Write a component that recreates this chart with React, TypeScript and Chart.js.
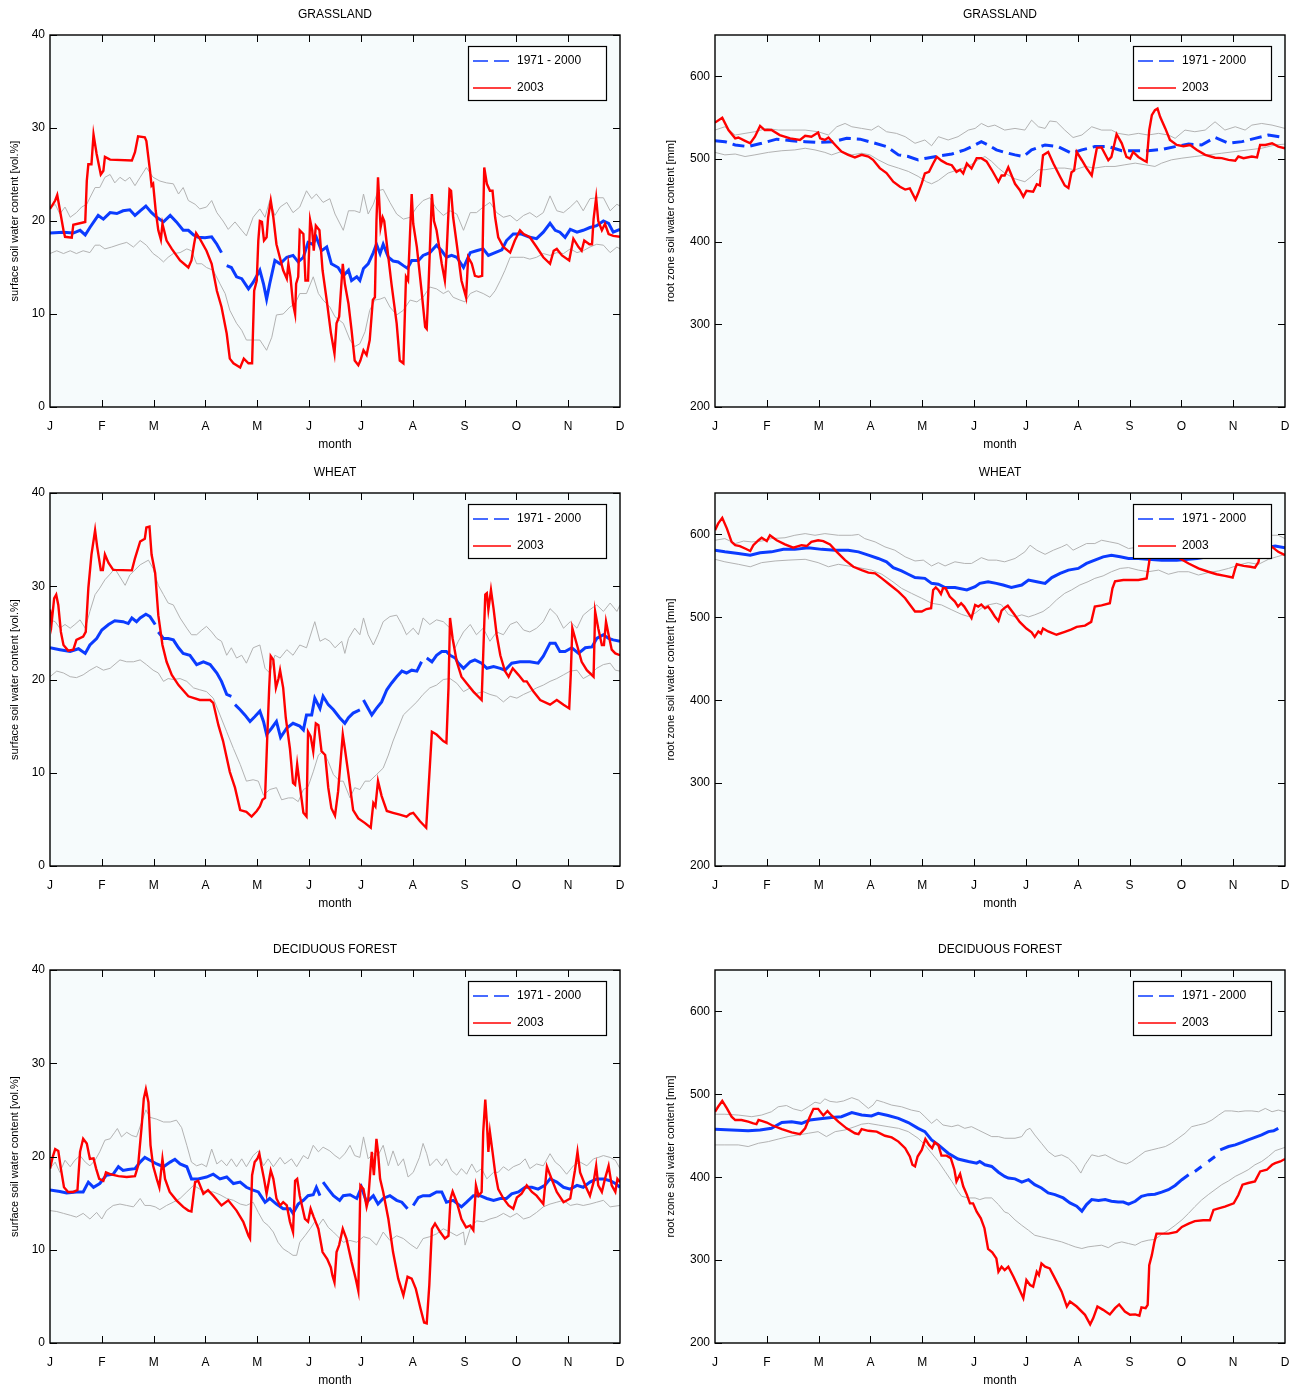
import React, { useEffect, useRef } from 'react';
import { Chart, registerables } from 'chart.js';

Chart.register(...registerables);
Chart.defaults.font.family = '"Liberation Sans", Arial, Helvetica, sans-serif';
Chart.defaults.color = '#000';

type Pt = [number, number | null];

const MONTH_LABELS = ['J', 'F', 'M', 'A', 'M', 'J', 'J', 'A', 'S', 'O', 'N', 'D'];
const LEGEND_MEAN = '1971 - 2000';
const LEGEND_YEAR = '2003';

// ---------------- GRASSLAND surface ----------------
const grassSurf2003: Pt[] = [[0,21.3],[0.1,22.2],[0.14,22.8],[0.26,19],[0.29,18.3],[0.42,18.2],[0.45,19.6],[0.68,19.9],[0.71,24.3],[0.74,26.1],[0.8,26.1],[0.84,29.3],[0.9,27.2],[0.98,25],[1.03,25.4],[1.06,26.9],[1.16,26.6],[1.58,26.5],[1.64,27.4],[1.7,29.1],[1.83,29],[1.86,28.6],[1.93,25.4],[1.96,23.8],[1.99,24],[2.04,21.1],[2.09,19],[2.14,18],[2.17,19.7],[2.25,17.9],[2.35,17],[2.51,15.75],[2.67,15],[2.73,15.75],[2.78,17.5],[2.82,18.7],[2.89,18.1],[3.02,16.8],[3.12,15.4],[3.22,12.5],[3.31,10.75],[3.41,7.9],[3.47,5.2],[3.54,4.7],[3.67,4.25],[3.74,5.2],[3.83,4.7],[3.9,4.7],[3.94,12.5],[3.99,13.6],[4.02,17.9],[4.05,20],[4.09,19.9],[4.13,17.9],[4.18,18.25],[4.21,20.4],[4.26,22.2],[4.31,20.4],[4.37,17.5],[4.5,14.7],[4.57,13.8],[4.6,15.4],[4.64,14],[4.69,11.1],[4.73,10],[4.75,13.25],[4.79,14],[4.82,19],[4.89,18.6],[4.93,13.6],[4.98,13.6],[5.02,20.1],[5.06,19],[5.09,16.8],[5.13,19.5],[5.2,19],[5.26,14.7],[5.34,11.5],[5.42,8],[5.49,5.75],[5.53,9],[5.58,9.7],[5.65,15.4],[5.69,13.25],[5.76,11.1],[5.82,8.25],[5.88,5],[5.95,4.5],[5.99,5],[6.05,6.1],[6.11,5.6],[6.17,7.2],[6.23,11.5],[6.27,11.8],[6.3,20],[6.33,24.7],[6.38,19.3],[6.42,20.4],[6.45,20],[6.5,17.5],[6.59,13.25],[6.69,9],[6.75,5],[6.82,4.7],[6.87,14],[6.91,13.6],[6.98,22.9],[7.01,19.7],[7.08,17.2],[7.17,12.5],[7.24,8.6],[7.27,8.4],[7.3,12.2],[7.37,22.9],[7.41,20],[7.46,19],[7.56,15.4],[7.62,13.6],[7.65,16.1],[7.71,23.4],[7.74,23.25],[7.78,20.4],[7.85,17.5],[7.94,13.6],[8.03,11.8],[8.07,16.1],[8.14,15.4],[8.2,14.1],[8.27,14],[8.34,14.1],[8.36,20.4],[8.38,25.75],[8.43,24],[8.49,23.25],[8.54,23.25],[8.59,20.4],[8.65,18.25],[8.75,17.2],[8.88,16.6],[8.97,17.9],[9.07,19],[9.14,18.6],[9.26,18.25],[9.39,17.2],[9.52,16.1],[9.65,15.4],[9.72,16.8],[9.78,17],[9.88,16.3],[10.02,15.75],[10.1,18.1],[10.2,17.2],[10.26,16.8],[10.31,17.9],[10.41,17.5],[10.46,17.5],[10.49,20.2],[10.54,22.5],[10.58,20],[10.65,19],[10.71,19.7],[10.78,18.6],[10.87,18.4],[11,18.3]];
const grassSurfMean: Pt[] = [[0,18.7],[0.26,18.8],[0.45,18.7],[0.58,19],[0.68,18.5],[0.77,19.3],[0.93,20.6],[1.03,20.2],[1.16,20.9],[1.29,20.8],[1.41,21.1],[1.54,21.2],[1.64,20.6],[1.74,21.1],[1.85,21.6],[1.96,20.9],[2.06,20.4],[2.19,19.9],[2.32,20.6],[2.44,19.9],[2.57,19],[2.67,19],[2.77,18.5],[2.86,18.25],[2.99,18.2],[3.12,18.3],[3.22,17.5],[3.31,16.6],[3.35,null],[3.41,15.2],[3.5,15],[3.6,14],[3.7,13.8],[3.83,12.7],[3.92,13.4],[4.05,14.7],[4.12,13.25],[4.18,11.6],[4.24,13.25],[4.34,15.75],[4.44,15.4],[4.57,16.1],[4.69,16.3],[4.79,15.6],[4.89,16.1],[4.98,17.7],[5.07,17.5],[5.14,18.25],[5.24,16.8],[5.34,17.2],[5.43,15.4],[5.56,15],[5.66,14.1],[5.76,14.7],[5.82,13.6],[5.92,14],[5.98,13.6],[6.05,14.9],[6.14,15.4],[6.24,16.6],[6.3,17.5],[6.37,16.5],[6.43,17.5],[6.53,16.1],[6.62,15.7],[6.72,15.6],[6.82,15.2],[6.9,14.9],[6.98,15.75],[7.11,15.75],[7.2,16.3],[7.33,16.6],[7.46,17.4],[7.56,16.8],[7.65,16.1],[7.75,16.3],[7.85,16.1],[7.98,15],[8.11,16.6],[8.23,16.8],[8.36,17],[8.46,16.3],[8.59,16.6],[8.72,16.9],[8.81,17.9],[8.94,18.6],[9.1,18.6],[9.26,18.25],[9.39,18.1],[9.52,18.8],[9.65,19.75],[9.75,19],[9.84,18.8],[9.94,18.25],[10.04,19.1],[10.17,18.8],[10.29,19],[10.42,19.3],[10.55,19.5],[10.68,20],[10.78,19.75],[10.87,18.8],[11,19.1]];
const grassSurfHigh: Pt[] = [[0,21.3],[0.1,21.8],[0.19,20.75],[0.29,21.5],[0.39,20.4],[0.51,20.9],[0.61,21.5],[0.71,21.8],[0.77,22.5],[0.87,23.6],[0.96,23.6],[1.06,24.7],[1.16,25],[1.25,24.1],[1.35,24.7],[1.45,24.3],[1.54,24.7],[1.64,23.8],[1.74,24.7],[1.86,25.75],[1.99,24.7],[2.12,24.3],[2.25,24.1],[2.38,24],[2.48,22.9],[2.57,23.6],[2.67,22.2],[2.8,21.8],[2.89,21.3],[3.02,21.5],[3.12,22.2],[3.22,20.9],[3.34,20],[3.44,19.1],[3.57,19.9],[3.7,19],[3.79,18.4],[3.92,20.4],[4.05,21.3],[4.15,20.4],[4.24,22.2],[4.34,20.6],[4.44,21.5],[4.57,22],[4.69,20.9],[4.82,21.5],[4.95,23.25],[5.05,22.4],[5.14,22.9],[5.27,22],[5.4,22.4],[5.5,20.75],[5.66,19],[5.76,21.1],[5.88,21.1],[5.98,20.9],[6.05,22.9],[6.14,20.75],[6.24,21.8],[6.33,23.25],[6.43,23.4],[6.56,22],[6.69,20.75],[6.82,20.2],[6.95,20.4],[7.08,21.5],[7.2,22.2],[7.33,22.5],[7.46,21.3],[7.59,20.6],[7.72,21.1],[7.85,20.75],[7.98,19],[8.11,20.9],[8.23,20.9],[8.36,21.5],[8.49,22],[8.62,20.9],[8.75,20.4],[8.88,20.6],[9.01,20],[9.14,20.6],[9.26,20.9],[9.39,20.4],[9.52,20.9],[9.65,22.7],[9.78,21.1],[9.91,20.9],[10.04,21.5],[10.17,22.2],[10.29,21.1],[10.42,22.4],[10.55,22.5],[10.68,22.5],[10.81,21.1],[10.94,21.8],[11,21.6]];
const grassSurfLow: Pt[] = [[0,16.5],[0.13,16.8],[0.26,16.5],[0.39,16.8],[0.51,16.5],[0.64,16.8],[0.77,16.6],[0.87,17.4],[0.96,17.4],[1.06,17],[1.19,17.2],[1.35,17.5],[1.48,17.7],[1.61,17.2],[1.74,17.9],[1.86,17.4],[1.99,16.5],[2.09,16.1],[2.19,15.6],[2.28,16.1],[2.38,16.5],[2.51,16.6],[2.64,17],[2.73,16.8],[2.83,15.4],[2.93,15.4],[3.02,15],[3.15,14.7],[3.28,13.25],[3.38,12.2],[3.47,10.4],[3.6,9],[3.7,8.25],[3.79,7.2],[3.92,7.2],[4.05,7.2],[4.18,6.1],[4.28,7.5],[4.37,9.9],[4.5,10],[4.63,10.75],[4.73,11.1],[4.82,12.2],[4.95,12.2],[5.08,14],[5.18,12.2],[5.27,11.5],[5.4,10.75],[5.5,9.7],[5.66,9],[5.79,7.2],[5.88,6.5],[5.98,6.8],[6.08,8.1],[6.17,10.4],[6.27,11.5],[6.37,11.6],[6.46,11.8],[6.56,10.75],[6.69,9.9],[6.82,10.4],[6.95,11.5],[7.08,11.3],[7.2,11.8],[7.33,12.9],[7.46,12.7],[7.59,12.2],[7.69,12.5],[7.78,11.8],[7.91,11.5],[8.01,11.3],[8.11,12.2],[8.23,12.5],[8.36,12.2],[8.49,11.8],[8.59,12.5],[8.69,13.6],[8.78,14.7],[8.88,16.1],[9.01,16.1],[9.14,16.1],[9.26,15.9],[9.39,16.1],[9.52,16.5],[9.65,16.3],[9.78,16.6],[9.91,16.5],[10.04,17],[10.17,16.6],[10.29,16.8],[10.42,17.2],[10.55,17.5],[10.68,17.4],[10.81,16.6],[10.94,17.2],[11,17]];

// ---------------- GRASSLAND root zone ----------------
const grassRoot2003: Pt[] = [[0,544],[0.14,550],[0.26,535],[0.39,525],[0.45,526],[0.58,522],[0.68,519],[0.77,527],[0.87,540],[0.96,535],[1.09,535],[1.25,529],[1.45,525],[1.64,523],[1.74,528],[1.86,527],[1.99,532],[2.03,525],[2.12,523],[2.19,526],[2.32,517],[2.44,509],[2.57,505],[2.7,502],[2.83,505],[2.96,503],[3.05,499],[3.18,489],[3.31,483],[3.44,472.5],[3.57,466.5],[3.67,463],[3.76,464.5],[3.87,451],[3.92,458.5],[3.99,470.5],[4.05,482.5],[4.13,484.5],[4.21,494.5],[4.28,502.5],[4.37,498],[4.47,494.5],[4.57,492.5],[4.66,484.5],[4.73,487],[4.79,482.5],[4.86,494.5],[4.95,488.5],[5.05,501],[5.14,501],[5.24,497],[5.34,487],[5.47,472.5],[5.53,480],[5.59,480],[5.66,490],[5.79,470],[5.88,462.5],[5.95,454.5],[6.01,461.5],[6.14,460.5],[6.21,469.5],[6.27,468],[6.33,504.5],[6.43,508.5],[6.53,494.5],[6.66,478.5],[6.75,468],[6.82,465],[6.88,484],[6.93,486],[6.98,508.5],[7.08,498.5],[7.17,489],[7.27,480],[7.37,513.5],[7.46,514],[7.59,498.5],[7.65,502.5],[7.75,530],[7.85,519],[7.94,502.5],[8.01,500.5],[8.07,508.5],[8.17,502.5],[8.27,498.5],[8.33,496.5],[8.38,535],[8.43,553],[8.49,559],[8.54,561],[8.59,551],[8.69,537],[8.78,523],[8.91,517],[9.04,515.5],[9.17,517],[9.3,511],[9.46,505],[9.65,501.5],[9.78,501],[9.91,499],[10.04,498],[10.1,503],[10.2,501],[10.36,503],[10.46,502],[10.52,517],[10.62,517],[10.75,519],[10.87,515],[11,513]];
const grassRootMean: Pt[] = [[0,522],[0.19,521],[0.39,517],[0.64,515],[0.9,519],[1.19,524],[1.48,522],[1.74,521],[1.99,520],[2.28,521],[2.54,525],[2.8,524],[3.09,519],[3.31,515],[3.54,505],[3.73,503],[3.92,499],[4.08,501],[4.31,503.5],[4.57,506],[4.82,511],[5.02,517],[5.14,521],[5.27,517],[5.43,511],[5.59,508],[5.79,505],[5.95,503],[6.11,511],[6.37,517],[6.62,515],[6.88,507],[7.08,511],[7.33,515],[7.59,515],[7.85,510],[8.11,510],[8.36,510],[8.62,511.5],[8.88,515],[9.14,518],[9.39,517],[9.65,526],[9.91,519],[10.17,521],[10.42,525],[10.68,529],[11,526]];
const grassRootHigh: Pt[] = [[0,535],[0.19,539],[0.39,529],[0.58,531],[0.77,533],[1,537],[1.22,535],[1.48,535],[1.74,535],[1.99,533],[2.19,529],[2.35,539],[2.51,543],[2.64,539],[2.83,537],[3.02,535],[3.15,540],[3.31,533],[3.5,531],[3.67,527],[3.86,519],[4.05,523],[4.18,516],[4.31,527],[4.5,523],[4.69,527],[4.89,535],[5.02,537],[5.14,543],[5.27,539],[5.4,541],[5.59,535],[5.79,537],[5.98,535],[6.11,547],[6.24,539],[6.37,537],[6.46,546],[6.59,545],[6.75,535],[6.91,526],[7.08,529],[7.27,539],[7.46,535],[7.65,535],[7.78,531],[7.98,529],[8.17,531],[8.36,529],[8.56,531],[8.75,529],[8.88,525],[9.07,535],[9.26,533],[9.46,535],[9.65,545],[9.84,535],[10.04,539],[10.23,535],[10.36,541],[10.55,543],[10.75,541],[11,537]];
const grassRootLow: Pt[] = [[0,508],[0.19,505],[0.39,506],[0.58,503],[0.77,505],[1.03,508],[1.29,510],[1.54,511],[1.74,513],[1.93,511],[2.12,508],[2.25,505],[2.44,509],[2.64,505],[2.83,507],[2.99,505],[3.15,499],[3.34,493],[3.54,489],[3.73,485],[3.92,479],[4.08,472.5],[4.18,470],[4.31,474],[4.5,483],[4.69,487],[4.89,491],[5.08,499],[5.21,503],[5.34,497],[5.47,489],[5.59,483],[5.79,476],[5.98,472.5],[6.11,479],[6.24,487],[6.37,487],[6.56,489],[6.75,489],[6.95,487],[7.14,491],[7.33,489],[7.53,491],[7.72,491],[7.91,493],[8.11,495],[8.3,493],[8.49,491],[8.62,495],[8.81,499],[9.01,501],[9.26,503],[9.52,505],[9.78,507],[10.04,509],[10.29,511],[10.55,513],[10.81,517],[11,518]];

// ---------------- WHEAT surface ----------------
const wheatSurf2003: Pt[] = [[0,27.5],[0.03,26],[0.08,28.7],[0.12,29.1],[0.16,28],[0.21,25.1],[0.26,23.7],[0.35,23.1],[0.45,23.2],[0.51,24.25],[0.64,24.6],[0.69,25.1],[0.74,29.8],[0.8,33.4],[0.87,36],[0.91,34.25],[0.98,31.75],[1.02,31.75],[1.06,33.4],[1.13,32.5],[1.22,31.75],[1.58,31.7],[1.64,33],[1.74,34.8],[1.83,35.1],[1.86,36.3],[1.92,36.4],[1.96,33.4],[2.03,31.4],[2.09,26.9],[2.17,23.7],[2.25,21.9],[2.35,20.5],[2.48,19.4],[2.67,18.2],[2.89,17.8],[3.09,17.8],[3.15,17.5],[3.25,15.1],[3.34,13.4],[3.47,10.1],[3.57,8.4],[3.67,6],[3.79,5.8],[3.89,5.3],[3.99,5.9],[4.05,6.4],[4.1,7.1],[4.15,7.3],[4.19,13.4],[4.23,19.1],[4.26,22.5],[4.31,22.1],[4.36,19.1],[4.41,20.1],[4.44,21],[4.5,19.1],[4.55,15.9],[4.63,12.6],[4.69,8.9],[4.73,8.7],[4.77,10.9],[4.81,9.1],[4.89,5.7],[4.95,5.3],[4.98,14.4],[5.03,13.9],[5.08,12.3],[5.13,15.3],[5.18,15.1],[5.24,12.3],[5.31,11.9],[5.37,8.4],[5.43,6.2],[5.5,5.4],[5.56,8],[5.65,14.1],[5.69,12.6],[5.76,9.8],[5.85,6],[5.95,5.1],[6.08,4.6],[6.19,4.1],[6.24,6.75],[6.28,6.4],[6.33,9.1],[6.4,7.5],[6.5,5.9],[6.62,5.7],[6.75,5.5],[6.88,5.3],[6.95,5.6],[7.01,5.7],[7.14,4.8],[7.26,4.1],[7.37,14.4],[7.46,14.1],[7.59,13.4],[7.65,13.2],[7.69,19.1],[7.72,26.6],[7.77,24.4],[7.85,21.9],[7.94,20.3],[8.04,19.6],[8.17,18.7],[8.33,17.8],[8.36,22.6],[8.4,29.1],[8.43,29.25],[8.46,27.5],[8.51,29.6],[8.56,27.6],[8.62,24.8],[8.69,22.6],[8.78,20.9],[8.85,20.3],[8.93,21.2],[9.04,20.5],[9.14,19.8],[9.2,19.8],[9.33,18.7],[9.46,17.8],[9.65,17.3],[9.78,17.8],[9.91,17.3],[10.02,16.9],[10.05,20.5],[10.08,25.5],[10.17,23.7],[10.26,21.9],[10.36,21],[10.49,20.3],[10.52,27.3],[10.58,25.5],[10.65,23.7],[10.69,23.7],[10.73,26.2],[10.78,24.8],[10.84,23.2],[10.91,22.8],[11,22.6]];
const wheatSurfMean: Pt[] = [[0,23.4],[0.19,23.2],[0.39,23],[0.55,23.3],[0.68,22.8],[0.77,23.7],[0.9,24.4],[1,25.3],[1.13,25.9],[1.25,26.3],[1.41,26.2],[1.51,26],[1.58,26.6],[1.67,26.2],[1.74,26.6],[1.85,27],[1.93,26.75],[2.03,25.9],[2.06,null],[2.09,25.1],[2.19,24.4],[2.28,24.4],[2.38,24.25],[2.48,23.4],[2.57,22.8],[2.7,22.6],[2.83,21.6],[2.96,21.9],[3.09,21.6],[3.22,20.7],[3.31,19.8],[3.41,18.4],[3.5,18.2],[3.53,null],[3.57,17.3],[3.67,16.75],[3.76,16.2],[3.86,15.5],[3.95,16],[4.05,16.6],[4.12,15.5],[4.18,14.1],[4.28,14.8],[4.37,15.5],[4.45,13.8],[4.57,14.8],[4.69,15.3],[4.82,15],[4.89,14.6],[4.95,16.2],[5.05,16.2],[5.11,18],[5.21,16.9],[5.27,18.2],[5.37,17.3],[5.47,16.75],[5.59,15.9],[5.69,15.3],[5.76,15.9],[5.85,16.4],[5.98,16.75],[6.02,null],[6.05,17.8],[6.14,16.9],[6.21,16.2],[6.3,16.9],[6.4,17.6],[6.5,18.9],[6.59,19.6],[6.69,20.3],[6.79,20.9],[6.88,20.7],[6.98,21],[7.08,20.9],[7.17,21.9],[7.22,null],[7.27,22.3],[7.37,21.9],[7.46,22.6],[7.56,23],[7.65,23],[7.72,22.6],[7.82,22.3],[7.88,21.75],[7.98,21.2],[8.11,21.9],[8.2,22.1],[8.33,21.75],[8.43,21.2],[8.56,21.4],[8.69,21.2],[8.78,21],[8.91,21.75],[9.07,21.9],[9.26,21.9],[9.42,21.75],[9.52,22.5],[9.65,23.9],[9.75,23.9],[9.84,23],[9.94,23],[10.07,23.4],[10.2,22.8],[10.33,23.4],[10.46,23.5],[10.55,24.4],[10.68,24.8],[10.78,24.4],[10.87,24.25],[11,24.1]];
const wheatSurfHigh: Pt[] = [[0,26.4],[0.1,26.2],[0.19,25.5],[0.29,25.9],[0.39,25.5],[0.48,25.9],[0.58,26.4],[0.68,25.5],[0.77,27.3],[0.87,29.1],[0.96,29.8],[1.06,30.7],[1.16,31.3],[1.25,31.9],[1.35,31],[1.45,30.1],[1.54,31.2],[1.64,31.75],[1.74,32.3],[1.9,32.8],[1.99,31.9],[2.09,30.1],[2.19,29.1],[2.28,28.2],[2.38,28],[2.51,26.6],[2.64,25.5],[2.73,24.8],[2.83,24.8],[2.93,25.3],[3.02,25.7],[3.12,25.1],[3.22,24.4],[3.31,24.1],[3.41,22.6],[3.5,23.4],[3.6,22.3],[3.7,22.6],[3.79,21.75],[3.92,23.4],[4.05,23.7],[4.15,21.2],[4.24,20.7],[4.34,22.6],[4.44,22.3],[4.57,23.2],[4.69,22.6],[4.82,23.7],[4.95,23.4],[5.11,26.2],[5.21,24.1],[5.31,24.4],[5.4,24.1],[5.5,23.4],[5.63,24.1],[5.69,22.8],[5.76,24.4],[5.88,25.5],[5.98,24.8],[6.05,26.6],[6.14,24.8],[6.24,23.7],[6.33,24.8],[6.43,26.2],[6.56,26.75],[6.69,26.9],[6.79,25.9],[6.88,24.8],[7.01,25.5],[7.11,24.8],[7.2,26.6],[7.33,25.9],[7.46,26.4],[7.59,26.2],[7.72,25.5],[7.82,23.4],[7.88,24.1],[7.98,25.1],[8.11,25.9],[8.23,24.8],[8.36,25.5],[8.49,24.1],[8.62,25.1],[8.75,24.8],[8.88,25.9],[9.01,26.2],[9.14,25.3],[9.26,25.1],[9.39,25.5],[9.52,26.2],[9.65,27.6],[9.78,26.9],[9.91,25.5],[10.04,26.2],[10.17,25.5],[10.29,26.9],[10.42,27.5],[10.55,28],[10.68,27.3],[10.81,28.2],[10.94,27.3],[11,28]];
const wheatSurfLow: Pt[] = [[0,20.3],[0.13,20.9],[0.26,20.7],[0.39,20.3],[0.51,20.2],[0.64,20.5],[0.77,21],[0.9,21.4],[1.03,21],[1.16,21.2],[1.35,22.1],[1.48,21.9],[1.61,21.9],[1.74,22.1],[1.86,21.6],[1.99,21],[2.09,20.7],[2.19,19.8],[2.28,20.1],[2.38,20],[2.51,20.1],[2.64,19.8],[2.77,19.1],[2.89,18.9],[3.02,18.7],[3.15,18],[3.28,16.2],[3.41,14.4],[3.54,12.6],[3.67,10.9],[3.79,9.1],[3.92,9.25],[4.02,9.1],[4.12,7.6],[4.24,8.2],[4.37,8.4],[4.47,7.1],[4.6,7.3],[4.69,7.3],[4.79,6.9],[4.89,8.2],[4.98,8.5],[5.08,10.1],[5.18,11.9],[5.27,12.3],[5.37,11.2],[5.47,9.8],[5.59,9.1],[5.66,9.1],[5.79,7.3],[5.88,8.4],[5.98,8.2],[6.08,9.1],[6.17,9.1],[6.3,9.8],[6.43,10.5],[6.53,11.9],[6.62,13.4],[6.72,14.8],[6.82,16.2],[6.95,16.9],[7.08,17.6],[7.2,18.4],[7.33,19.1],[7.46,19.4],[7.59,20],[7.72,20.1],[7.85,19.6],[7.98,18.7],[8.11,19.1],[8.23,18.5],[8.36,18.7],[8.49,18.4],[8.62,18.2],[8.75,17.6],[8.88,18.2],[9.01,18],[9.14,18.4],[9.26,18.7],[9.39,19.1],[9.52,19.4],[9.65,19.8],[9.78,20.1],[9.91,20.5],[10.04,20.9],[10.17,21],[10.29,20.1],[10.42,20.5],[10.55,21.2],[10.68,21.6],[10.81,21.75],[10.91,21],[11,20.9]];

// ---------------- WHEAT root zone ----------------
const wheatRoot2003: Pt[] = [[0,605],[0.06,613],[0.14,620],[0.23,607],[0.32,591],[0.39,587],[0.48,586],[0.58,583],[0.68,580],[0.74,587],[0.84,593],[0.9,596],[1,592],[1.06,599],[1.19,593],[1.35,588],[1.51,584],[1.67,587],[1.77,586],[1.86,591],[1.99,593],[2.09,592],[2.22,588],[2.35,579],[2.51,569],[2.67,561],[2.83,557],[2.96,554],[3.09,553],[3.22,547],[3.38,539],[3.54,531],[3.67,523],[3.74,517],[3.86,507],[3.99,507],[4.08,510],[4.17,511],[4.21,533],[4.26,536],[4.31,533],[4.36,528],[4.4,535],[4.45,535],[4.53,525],[4.63,519],[4.69,513],[4.75,517],[4.81,513],[4.89,505],[4.95,499],[5.02,515],[5.08,513],[5.14,515.5],[5.21,511],[5.27,513],[5.34,507],[5.4,501],[5.47,495.5],[5.53,508],[5.6,512],[5.65,514],[5.76,505],[5.88,494.5],[6.01,486.5],[6.11,482],[6.17,476.5],[6.24,483],[6.29,480.5],[6.33,486.5],[6.43,483],[6.59,479],[6.75,482.5],[6.88,485.5],[6.98,488.5],[7.14,490],[7.26,494.5],[7.33,513],[7.46,514.5],[7.62,517],[7.67,535],[7.72,543.5],[7.88,545],[8.04,545],[8.17,545],[8.33,547],[8.38,567],[8.4,581],[8.49,581],[8.62,579],[8.75,579],[8.88,581],[8.97,571],[9.14,565],[9.33,559],[9.52,555],[9.68,552],[9.84,550],[9.99,548],[10.04,559],[10.07,564],[10.2,562],[10.33,561],[10.42,560],[10.49,567],[10.52,582],[10.62,585],[10.75,585],[10.87,579],[11,575]];
const wheatRootMean: Pt[] = [[0,581],[0.19,579],[0.45,577],[0.68,575],[0.87,578],[1.09,579],[1.32,582],[1.54,582],[1.8,584],[2.06,582],[2.32,581],[2.57,581],[2.77,579],[2.96,575],[3.15,571],[3.31,567],[3.44,560],[3.6,556],[3.73,552],[3.86,548],[4.05,547],[4.18,541],[4.31,540],[4.44,536],[4.63,536],[4.86,533],[5.02,537],[5.11,541],[5.27,543],[5.43,541],[5.56,539],[5.72,536],[5.92,539],[6.05,545],[6.21,543],[6.37,541],[6.5,548],[6.66,553],[6.82,557],[7.01,559],[7.17,565],[7.33,569],[7.49,573],[7.65,575],[7.82,573],[7.98,571],[8.17,571],[8.62,569],[8.91,569],[9.3,571],[9.8,576],[10.3,580],[10.81,586],[11,584]];
const wheatRootHigh: Pt[] = [[0,593],[0.19,595],[0.39,589],[0.55,592],[0.71,591],[0.9,592],[1.09,595],[1.35,596],[1.54,599],[1.74,601],[1.93,599],[2.12,601],[2.38,599],[2.64,599],[2.77,600],[2.89,595],[3.09,591],[3.28,585],[3.47,581],[3.67,573],[3.86,568],[4.02,569],[4.18,562],[4.31,566],[4.44,562],[4.63,567],[4.82,565],[4.95,565],[5.14,572],[5.27,569],[5.43,569],[5.59,567],[5.79,571],[5.98,579],[6.08,587],[6.21,581],[6.37,576],[6.53,581],[6.69,585],[6.79,588],[6.91,581],[7.04,585],[7.17,589],[7.33,589],[7.46,593],[7.62,591],[7.78,589],[7.98,583],[8.3,586],[8.7,590],[9.2,588],[9.7,592],[10.2,596],[10.75,599],[10.87,599],[11,595]];
const wheatRootLow: Pt[] = [[0,570],[0.19,567],[0.45,564],[0.68,561],[0.9,566],[1.16,568],[1.41,569],[1.74,570],[1.99,566],[2.19,561],[2.38,564],[2.57,562],[2.77,560],[3.02,557],[3.22,552],[3.41,544],[3.6,535],[3.79,529],[3.99,523],[4.18,517],[4.37,515],[4.57,509],[4.76,503.5],[4.89,501],[5.02,505],[5.14,511],[5.27,515],[5.43,517],[5.53,515],[5.66,503.5],[5.79,500.5],[5.92,503],[6.05,500.5],[6.17,503],[6.33,507],[6.46,513],[6.59,521],[6.75,529],[6.88,533],[7.04,539],[7.2,543],[7.33,547],[7.49,550],[7.65,555],[7.82,559],[7.98,560],[8.17,557],[8.36,555],[8.56,557],[8.75,552],[8.94,555],[9.14,555],[9.33,551],[9.52,554],[9.72,556],[9.91,559],[10.1,563],[10.29,566],[10.49,564],[10.68,570],[10.84,573],[11,576]];

// ---------------- DECIDUOUS FOREST surface ----------------
const forestSurf2003: Pt[] = [[0,18.7],[0.05,19.9],[0.1,20.8],[0.16,20.6],[0.21,18.7],[0.27,16.7],[0.35,16.2],[0.45,16.2],[0.53,16.4],[0.58,20.5],[0.64,21.9],[0.71,21.4],[0.77,19.75],[0.84,19.8],[0.89,18.7],[0.95,17.6],[1.03,17.4],[1.08,18.3],[1.16,18.1],[1.32,17.9],[1.48,17.8],[1.64,17.9],[1.7,19],[1.77,23.3],[1.81,26.2],[1.85,27.2],[1.9,25.8],[1.94,21.2],[1.99,19],[2.06,17.6],[2.11,16.7],[2.17,19.75],[2.22,17.6],[2.31,16.2],[2.44,15.3],[2.57,14.6],[2.67,14.2],[2.73,14.1],[2.8,17.25],[2.86,17.4],[2.96,16],[3.05,16.4],[3.15,15.8],[3.31,14.75],[3.44,15.3],[3.6,14.2],[3.73,13],[3.83,11.5],[3.86,11.2],[3.9,18],[3.95,19.4],[4,19.75],[4.04,20.3],[4.08,19],[4.13,17.6],[4.18,16],[4.26,18.5],[4.31,17.6],[4.37,15.5],[4.44,14.75],[4.5,15.1],[4.57,14.75],[4.63,13],[4.69,11.9],[4.73,17.4],[4.77,17.6],[4.82,15.8],[4.92,13.3],[4.98,13],[5.03,14.4],[5.09,13.5],[5.18,12.25],[5.26,9.75],[5.35,9],[5.42,8.1],[5.45,7.25],[5.49,6.5],[5.53,9.75],[5.58,10.5],[5.65,12.25],[5.72,11.2],[5.82,8.7],[5.9,6.9],[5.95,5.6],[5.99,16.9],[6.05,16.5],[6.11,14.6],[6.14,15.3],[6.21,20.5],[6.25,18],[6.3,21.9],[6.33,20.5],[6.37,17.6],[6.43,16.2],[6.53,13.3],[6.62,9.75],[6.72,6.9],[6.82,5.1],[6.9,7.1],[6.98,6.9],[7.06,5.8],[7.15,3.7],[7.22,2.2],[7.27,2.1],[7.32,6.2],[7.37,12.25],[7.43,12.8],[7.53,11.9],[7.62,11.2],[7.69,11.5],[7.73,15.5],[7.77,16.25],[7.85,15.1],[7.94,13.3],[8.03,12.4],[8.11,12.6],[8.17,12.1],[8.22,16.9],[8.27,15.8],[8.33,16.2],[8.36,22.6],[8.4,26.1],[8.43,23.7],[8.46,20.5],[8.49,22.6],[8.54,20.5],[8.59,18.3],[8.65,16.5],[8.75,15.5],[8.85,14.75],[8.94,14.4],[9.01,15.6],[9.1,16],[9.2,16.9],[9.3,16.2],[9.39,15.8],[9.52,14.9],[9.59,18.9],[9.68,17.6],[9.78,16.2],[9.91,15.1],[10.04,15.5],[10.13,18.5],[10.18,20.5],[10.23,18.3],[10.33,16.9],[10.42,15.8],[10.49,17.25],[10.54,19],[10.58,16.9],[10.65,16.2],[10.71,17.6],[10.78,19],[10.84,16.9],[10.91,16.2],[10.95,17.6],[11,17.25]];
const forestSurfMean: Pt[] = [[0,16.4],[0.19,16.25],[0.32,16.1],[0.51,16.2],[0.64,16.2],[0.74,17.25],[0.84,16.7],[0.96,17.1],[1.09,18],[1.22,18.1],[1.32,18.9],[1.41,18.5],[1.51,18.6],[1.64,18.7],[1.74,19.4],[1.83,19.9],[1.93,19.6],[2.06,19.2],[2.19,18.9],[2.32,19.4],[2.41,19.7],[2.51,19.2],[2.64,18.9],[2.73,17.6],[2.86,17.6],[3.02,17.8],[3.15,18.1],[3.28,17.6],[3.41,17.8],[3.54,17.1],[3.67,17.25],[3.79,16.7],[3.92,16.4],[4.02,16.2],[4.15,15.1],[4.24,15.5],[4.37,14.9],[4.5,14.4],[4.63,14.4],[4.69,13.9],[4.79,14.9],[4.89,15.3],[4.98,15.8],[5.08,15.9],[5.14,16.7],[5.21,15.8],[5.24,null],[5.27,17.25],[5.37,16.5],[5.47,15.8],[5.59,15.3],[5.66,15.8],[5.79,15.9],[5.92,15.5],[6.01,16.7],[6.11,15.1],[6.24,15.8],[6.33,14.9],[6.43,15.5],[6.56,15.8],[6.69,15.3],[6.79,15.1],[6.9,14.4],[6.95,null],[7.01,14.75],[7.11,15.6],[7.2,15.8],[7.33,15.8],[7.46,16.2],[7.56,16.2],[7.65,15.1],[7.78,15.3],[7.94,14.6],[8.04,15.1],[8.17,15.8],[8.3,15.8],[8.43,15.5],[8.56,15.3],[8.69,15.5],[8.81,15.5],[8.91,16],[9.04,16.2],[9.17,16.7],[9.3,16.7],[9.42,16.5],[9.55,16.9],[9.65,17.6],[9.78,17.25],[9.91,16.7],[10.04,16.5],[10.17,16.9],[10.29,16.7],[10.42,17.25],[10.55,17.6],[10.68,17.6],[10.81,17.4],[10.91,17.1],[11,16.7]];
const forestSurfHigh: Pt[] = [[0,18.7],[0.1,19.4],[0.19,18.3],[0.29,19.6],[0.39,18.9],[0.48,19.6],[0.58,20.1],[0.68,19.4],[0.77,19],[0.87,19.6],[0.96,20.5],[1.06,21.75],[1.16,21.9],[1.25,22.6],[1.3,23],[1.38,22.1],[1.48,22.6],[1.58,22.25],[1.67,22.1],[1.77,23.7],[1.85,25],[1.93,24.2],[2.06,24],[2.19,23.7],[2.32,23.7],[2.44,23.9],[2.54,23.1],[2.64,21.2],[2.73,19.4],[2.83,19],[2.93,19.2],[3.02,18.9],[3.12,20.8],[3.22,19.2],[3.31,19.6],[3.41,19],[3.5,19.75],[3.6,18.9],[3.7,19.75],[3.79,18.9],[3.92,20.1],[4.02,20.6],[4.12,19],[4.21,19.75],[4.31,18.9],[4.44,19.9],[4.53,19.2],[4.66,19.75],[4.76,18.9],[4.89,20.1],[4.98,19.75],[5.08,21.2],[5.18,20.5],[5.27,21],[5.4,20.6],[5.5,20.1],[5.59,19.75],[5.69,20.3],[5.79,21.2],[5.88,20.1],[5.98,19.9],[6.05,22.1],[6.14,19.75],[6.24,20.3],[6.33,20.1],[6.43,21.2],[6.53,19],[6.62,20.6],[6.72,19],[6.82,19.75],[6.91,17.8],[7.01,18.3],[7.13,19.9],[7.2,21.4],[7.27,20.3],[7.33,19],[7.46,19.75],[7.56,19],[7.65,19.75],[7.75,18.5],[7.85,18],[7.94,18.7],[8.04,18.1],[8.14,19.2],[8.23,18.3],[8.33,18.7],[8.43,17.6],[8.56,18.3],[8.65,18.3],[8.75,18.9],[8.85,18.5],[8.94,18.9],[9.07,19.2],[9.17,19.75],[9.26,18.7],[9.39,19.2],[9.52,19],[9.65,20.3],[9.75,19.4],[9.84,19],[9.97,18.1],[10.1,19],[10.23,19.4],[10.36,19],[10.49,19.75],[10.58,19.9],[10.68,20.1],[10.81,19.9],[10.91,19.6],[11,18.7]];
const forestSurfLow: Pt[] = [[0,14.2],[0.13,14.1],[0.26,13.9],[0.39,13.7],[0.51,13.5],[0.64,13.9],[0.77,13.3],[0.9,14],[1,13.3],[1.09,14.2],[1.22,14.75],[1.35,14.9],[1.48,14.75],[1.61,14.6],[1.74,15.5],[1.83,14.75],[1.93,14.75],[2.03,14.6],[2.12,14.3],[2.25,14.75],[2.38,15.1],[2.51,15.5],[2.64,16.2],[2.77,16.9],[2.89,16.5],[3.02,16.2],[3.15,16.2],[3.28,15.9],[3.41,15.5],[3.54,15.3],[3.67,14.9],[3.79,14.75],[3.92,15.1],[4.02,14],[4.12,13],[4.21,12.6],[4.31,11.9],[4.4,10.8],[4.5,10.1],[4.6,9.75],[4.69,9.4],[4.76,9.4],[4.82,10.8],[4.92,11.5],[5.02,12.25],[5.11,13],[5.18,12.6],[5.27,13.3],[5.37,12.4],[5.47,11.9],[5.56,11.4],[5.66,10.8],[5.79,11],[5.92,10.8],[6.05,11.4],[6.17,11.2],[6.3,10.5],[6.43,11.9],[6.56,11],[6.69,11.5],[6.82,11.2],[6.95,10.6],[7.08,10.1],[7.2,11.2],[7.33,11.4],[7.46,11.7],[7.59,12.25],[7.72,11.9],[7.85,11.5],[7.98,11.9],[8.01,10.5],[8.11,12.25],[8.23,13.1],[8.36,13],[8.49,13.3],[8.62,13.5],[8.75,13.9],[8.88,13.5],[9.01,13.9],[9.14,13.3],[9.26,13.5],[9.39,14],[9.52,14.6],[9.65,14.9],[9.78,15.1],[9.91,15.3],[10.04,14.75],[10.17,14.9],[10.29,14.75],[10.42,14.9],[10.55,15.1],[10.68,15.3],[10.81,14.6],[11,14.75]];

// ---------------- DECIDUOUS FOREST root zone ----------------
const forestRoot2003: Pt[] = [[0,479],[0.06,485],[0.14,492],[0.23,483],[0.32,473],[0.39,469],[0.51,469],[0.64,467],[0.74,465],[0.8,464],[0.84,469],[0.9,468],[1,466],[1.09,463],[1.29,458],[1.48,454],[1.64,452],[1.74,459],[1.83,473],[1.9,482.5],[1.99,482.5],[2.09,474.5],[2.17,480],[2.25,474.5],[2.38,467],[2.54,459],[2.7,453],[2.77,452],[2.83,458],[2.96,456],[3.12,455],[3.28,450],[3.41,448],[3.54,443],[3.67,435],[3.76,425],[3.81,415],[3.86,413],[3.91,425],[3.99,433],[4.06,446],[4.13,439],[4.19,435],[4.24,442],[4.31,439],[4.37,426],[4.47,426],[4.55,423],[4.62,409],[4.66,395],[4.73,404],[4.79,389],[4.86,379],[4.92,368.5],[4.98,368.5],[5.05,358.5],[5.13,350.5],[5.2,338.5],[5.27,313.5],[5.35,309.5],[5.43,302],[5.47,286],[5.53,292],[5.59,288],[5.66,292],[5.76,280],[5.85,268],[5.95,254],[6.01,276],[6.08,270],[6.14,268],[6.21,286],[6.25,282],[6.3,296],[6.37,292],[6.46,290],[6.56,278],[6.69,262],[6.79,244],[6.85,250],[6.98,244],[7.14,234],[7.24,222.5],[7.3,230],[7.38,244],[7.49,240],[7.62,234.5],[7.72,242],[7.8,246.5],[7.91,238],[8.01,234],[8.11,234.5],[8.19,233],[8.23,243],[8.31,242],[8.35,246],[8.38,294],[8.43,306],[8.48,322],[8.52,332],[8.62,332],[8.75,332],[8.91,334],[9.01,340],[9.14,344],[9.26,347],[9.42,348],[9.55,348],[9.62,360.5],[9.72,362.5],[9.84,364.5],[10.01,368.5],[10.1,378.5],[10.18,391],[10.29,393],[10.42,395],[10.52,407],[10.65,409],[10.75,415],[10.81,417],[10.91,419],[11,422]];
const forestRootMean: Pt[] = [[0,458],[0.32,457],[0.64,456],[0.87,457],[1.09,459],[1.29,466],[1.48,467],[1.67,465],[1.83,469],[2.03,470.5],[2.25,472],[2.44,473],[2.64,478],[2.83,475],[3.02,474],[3.15,477],[3.34,474.5],[3.54,471],[3.73,466],[3.92,459],[4.05,455],[4.18,445],[4.31,439],[4.5,429],[4.69,422],[4.89,419],[5.05,417],[5.11,419],[5.21,415],[5.34,413],[5.47,406],[5.59,401],[5.66,399],[5.79,398],[5.92,394],[6.05,397],[6.17,391],[6.3,387],[6.43,381],[6.56,379],[6.72,375],[6.85,369],[6.98,365],[7.08,359],[7.17,367],[7.27,373],[7.4,372],[7.53,373],[7.65,371],[7.78,370],[7.88,370],[7.98,367.5],[8.11,371],[8.23,377],[8.36,379],[8.49,379.5],[8.62,382],[8.75,385],[8.88,390],[9.01,397],[9.14,403],[9.2,null],[9.26,407],[9.39,413],[9.45,null],[9.52,419],[9.65,425],[9.7,null],[9.75,433],[9.91,437],[10.04,439],[10.17,442],[10.29,445],[10.42,448],[10.55,451],[10.68,455],[10.78,456],[10.87,459]];
const forestRootHigh: Pt[] = [[0,476],[0.19,476],[0.45,475],[0.71,473],[0.9,475],[1.09,479],[1.22,485],[1.38,486.5],[1.51,482.5],[1.67,480],[1.8,485],[1.93,490.5],[2.03,489],[2.12,494.5],[2.22,491.5],[2.35,490.5],[2.48,492],[2.64,496],[2.77,493],[2.96,483],[3.05,487],[3.12,493],[3.25,490.5],[3.41,487],[3.6,485],[3.79,481],[3.95,479],[4.05,473],[4.18,465],[4.28,470],[4.4,463],[4.57,461],[4.69,463],[4.82,459],[4.95,461],[5.08,457],[5.21,453],[5.34,449],[5.47,449],[5.59,447],[5.79,447],[5.92,449],[6.01,457],[6.08,459],[6.17,451],[6.3,441],[6.43,431],[6.56,425],[6.69,427],[6.82,423],[6.95,415],[7.06,405],[7.14,415],[7.27,427],[7.4,425],[7.53,427],[7.65,423],[7.78,419],[7.94,416],[8.04,419],[8.17,425],[8.3,431],[8.43,433],[8.56,435],[8.69,437],[8.81,441],[8.94,447],[9.07,453],[9.2,461],[9.33,463],[9.46,465],[9.59,469],[9.72,475],[9.84,480],[9.97,480],[10.1,479],[10.23,480],[10.36,480],[10.49,479],[10.62,483],[10.75,479],[10.87,481],[11,479]];
const forestRootLow: Pt[] = [[0,439],[0.19,439],[0.45,439],[0.64,437],[0.84,441],[1.03,443],[1.22,446],[1.41,449],[1.61,451],[1.8,453],[1.99,455],[2.15,449],[2.32,455],[2.51,457],[2.7,461],[2.83,464],[2.96,465],[3.15,463],[3.34,461],[3.54,459],[3.73,455],[3.92,447],[4.05,439],[4.18,429],[4.31,419],[4.44,407],[4.57,395],[4.69,383],[4.76,377],[4.89,375],[5.02,375],[5.11,373],[5.21,375],[5.34,375],[5.47,367],[5.59,358],[5.66,356.5],[5.79,348.5],[5.92,342],[6.05,336],[6.17,330],[6.3,328],[6.43,326],[6.56,324],[6.69,322],[6.82,319],[6.95,316],[7.08,314],[7.2,316],[7.33,317],[7.46,318],[7.59,315],[7.72,320],[7.85,322],[7.98,320],[8.11,318],[8.23,322],[8.36,324],[8.49,325],[8.62,331],[8.75,336],[8.88,342],[9.01,348.5],[9.14,356.5],[9.26,364.5],[9.39,372.5],[9.52,379],[9.65,385],[9.78,391],[9.91,395.5],[10.04,401],[10.17,405],[10.29,409],[10.42,415],[10.55,419],[10.68,425],[10.81,432],[11,436]];

const RED = '#ff0000';
const BLUE = '#0b3bff';
const GRAY = '#b3b3b3';
const FONT = '"Liberation Sans", Arial, Helvetica, sans-serif';

interface PanelSpec {
  id: string;
  title: string;
  yLabel: string;
  yMin: number;
  yMax: number;
  yStep: number;
  left: number;
  top: number;
  width: number;
  height: number;
  axisW: number;
  padRight: number;
  yTitlePad: number;
  dashed: boolean;
  red: Pt[];
  blue: Pt[];
  high: Pt[];
  low: Pt[];
}

const SURF_LABEL = 'surface soil water content [vol.%]';
const ROOT_LABEL = 'root zone soil water content [mm]';

const ROW_TOP = [0, 458, 935];
const ROW_H = [452, 453, 453];

function leftSpec(row: number, id: string, title: string, red: Pt[], blue: Pt[], high: Pt[], low: Pt[]): PanelSpec {
  return { id, title, yLabel: SURF_LABEL, yMin: 0, yMax: 40, yStep: 10, left: 0, top: ROW_TOP[row], width: 647, height: ROW_H[row], axisW: 50, padRight: 27, yTitlePad: 8, dashed: false, red, blue, high, low };
}
function rightSpec(row: number, id: string, title: string, red: Pt[], blue: Pt[], high: Pt[], low: Pt[], dashed = false): PanelSpec {
  return { id, title, yLabel: ROOT_LABEL, yMin: 200, yMax: 650, yStep: 100, left: 647, top: ROW_TOP[row], width: 668, height: ROW_H[row], axisW: 68, padRight: 30, yTitlePad: 17, dashed, red, blue, high, low };
}

const PANELS: PanelSpec[] = [
  leftSpec(0, 'gs', 'GRASSLAND', grassSurf2003, grassSurfMean, grassSurfHigh, grassSurfLow),
  rightSpec(0, 'gr', 'GRASSLAND', grassRoot2003, grassRootMean, grassRootHigh, grassRootLow, true),
  leftSpec(1, 'ws', 'WHEAT', wheatSurf2003, wheatSurfMean, wheatSurfHigh, wheatSurfLow),
  rightSpec(1, 'wr', 'WHEAT', wheatRoot2003, wheatRootMean, wheatRootHigh, wheatRootLow),
  leftSpec(2, 'fs', 'DECIDUOUS FOREST', forestSurf2003, forestSurfMean, forestSurfHigh, forestSurfLow),
  rightSpec(2, 'fr', 'DECIDUOUS FOREST', forestRoot2003, forestRootMean, forestRootHigh, forestRootLow),
];

const toXY = (pts: Pt[]) => pts.map(([x, y]) => ({ x, y }));

const decoPlugin = {
  id: 'deco',
  beforeDraw(chart: any) {
    const { ctx, chartArea: a } = chart;
    ctx.save();
    ctx.fillStyle = '#f6fbfc';
    ctx.fillRect(a.left, a.top, a.right - a.left, a.bottom - a.top);
    ctx.restore();
  },
  afterDatasetsDraw(chart: any, _args: any, opts: any) {
    const { ctx, chartArea: a, scales } = chart;
    const xs = scales.x;
    const ys = scales.y;
    ctx.save();
    ctx.strokeStyle = '#000';
    ctx.lineWidth = 1;
    ctx.setLineDash([]);
    const line = (x1: number, y1: number, x2: number, y2: number) => {
      ctx.beginPath();
      ctx.moveTo(x1, y1);
      ctx.lineTo(x2, y2);
      ctx.stroke();
    };
    for (let m = 1; m < 11; m++) {
      const px = Math.round(xs.getPixelForValue(m)) + 0.5;
      line(px, a.bottom, px, a.bottom - 7);
      line(px, a.top, px, a.top + 7);
    }
    for (const t of ys.ticks) {
      const py = Math.round(ys.getPixelForValue(t.value)) + 0.5;
      line(a.left, py, a.left + 7, py);
      line(a.right, py, a.right - 7, py);
    }
    ctx.lineWidth = 1.4;
    ctx.strokeRect(a.left, a.top, a.right - a.left, a.bottom - a.top);

    // legend box
    const bw = 138, bh = 54;
    const bx = a.right - 14 - bw;
    const by = a.top + 11;
    ctx.fillStyle = '#ffffff';
    ctx.fillRect(bx, by, bw, bh);
    ctx.lineWidth = 1.2;
    ctx.strokeStyle = '#000';
    ctx.strokeRect(bx + 0.5, by + 0.5, bw, bh);
    ctx.lineWidth = 1.6;
    ctx.strokeStyle = BLUE;
    ctx.setLineDash([15, 6]);
    line(bx + 5, by + 15, bx + 43, by + 15);
    ctx.setLineDash([]);
    ctx.strokeStyle = RED;
    line(bx + 5, by + 42, bx + 43, by + 42);
    ctx.fillStyle = '#000';
    ctx.font = `12px ${FONT}`;
    ctx.textAlign = 'left';
    ctx.textBaseline = 'middle';
    ctx.fillText(LEGEND_MEAN, bx + 49, by + 15);
    ctx.fillText(LEGEND_YEAR, bx + 49, by + 42);

    // title
    ctx.textAlign = 'center';
    ctx.fillText(opts.title, (a.left + a.right) / 2, a.top - 20);
    ctx.restore();
  },
};

function Panel({ spec }: { spec: PanelSpec }) {
  const ref = useRef<HTMLCanvasElement | null>(null);
  useEffect(() => {
    if (!ref.current) return;
    const common = { pointRadius: 0, tension: 0, spanGaps: false, fill: false };
    const chart = new Chart(ref.current, {
      type: 'line',
      data: {
        datasets: [
          { ...common, label: LEGEND_YEAR, data: toXY(spec.red), borderColor: RED, borderWidth: 2.4, order: 1 },
          { ...common, label: LEGEND_MEAN, data: toXY(spec.blue), borderColor: BLUE, borderWidth: 3, borderDash: spec.dashed ? [12, 6] : [], order: 2 },
          { ...common, label: 'upper', data: toXY(spec.high), borderColor: GRAY, borderWidth: 1, order: 3 },
          { ...common, label: 'lower', data: toXY(spec.low), borderColor: GRAY, borderWidth: 1, order: 3 },
        ],
      } as any,
      options: {
        animation: false,
        responsive: false,
        events: [],
        layout: { padding: { top: 35, right: spec.padRight, left: 0, bottom: 0 } },
        plugins: {
          legend: { display: false },
          tooltip: { enabled: false },
          title: { display: false },
          deco: { title: spec.title },
        } as any,
        scales: {
          x: {
            type: 'linear',
            min: 0,
            max: 11,
            grid: { display: false, drawTicks: false },
            border: { display: false },
            ticks: {
              stepSize: 1,
              autoSkip: false,
              maxRotation: 0,
              padding: 12,
              color: '#000',
              font: { size: 12 },
              callback: (v: any) => MONTH_LABELS[Math.round(Number(v))] ?? '',
            },
            title: { display: true, text: 'month', color: '#000', font: { size: 12 }, padding: { top: 0, bottom: 0 } },
            afterFit: (s: any) => { s.height = 45; },
          },
          y: {
            type: 'linear',
            min: spec.yMin,
            max: spec.yMax,
            grid: { display: false, drawTicks: false },
            border: { display: false },
            ticks: { stepSize: spec.yStep, includeBounds: false, padding: 5, color: '#000', font: { size: 12 } },
            title: { display: true, text: spec.yLabel, color: '#000', font: { size: 11 }, padding: { top: spec.yTitlePad, bottom: 0 } },
            afterFit: (s: any) => { s.width = spec.axisW; },
          },
        } as any,
      },
      plugins: [decoPlugin as any],
    });
    return () => chart.destroy();
  }, [spec]);
  return (
    <canvas
      ref={ref}
      width={spec.width}
      height={spec.height}
      style={{ position: 'absolute', left: spec.left, top: spec.top, width: spec.width, height: spec.height }}
    />
  );
}

export default function App() {
  return (
    <div style={{ position: 'absolute', left: 0, top: 0, width: 1294, height: 1388, overflow: 'hidden', background: '#ffffff' }}>
      {PANELS.map((p) => (
        <Panel key={p.id} spec={p} />
      ))}
    </div>
  );
}
